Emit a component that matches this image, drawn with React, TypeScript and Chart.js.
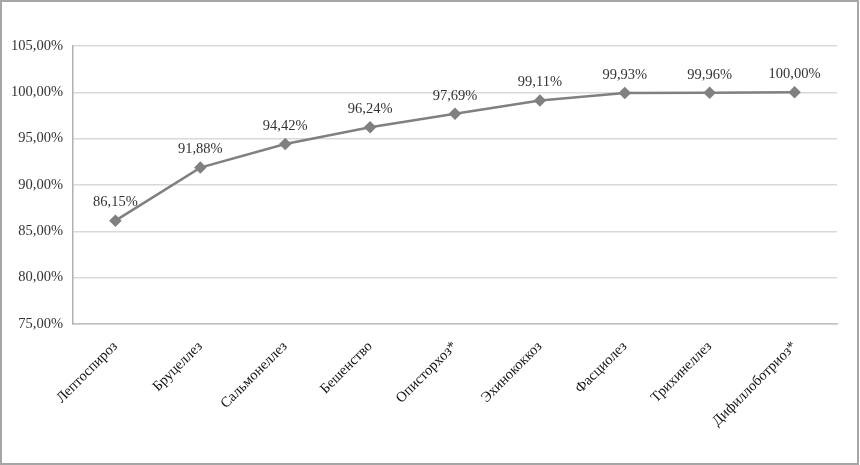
import React, { useEffect, useRef } from "react";
import { Chart, registerables } from "chart.js";

Chart.register(...registerables);

const categories = [
  "Лептоспироз",
  "Бруцеллез",
  "Сальмонеллез",
  "Бешенство",
  "Описторхоз*",
  "Эхинококкоз",
  "Фасциолез",
  "Трихинеллез",
  "Дифиллоботриоз*",
];
const values = [86.15, 91.88, 94.42, 96.24, 97.69, 99.11, 99.93, 99.96, 100.0];
const yMin = 75;
const yMax = 105;
const yStep = 5;

const fmt = (v: number) => v.toFixed(2).replace(".", ",") + "%";
const FONT = "'Liberation Serif', 'Times New Roman', serif";

const dataLabels = {
  id: "dataLabels",
  afterDatasetsDraw(chart: any) {
    const ctx = chart.ctx;
    const meta = chart.getDatasetMeta(0);
    ctx.save();
    ctx.font = `14.5px ${FONT}`;
    ctx.fillStyle = "#333333";
    ctx.textAlign = "center";
    ctx.textBaseline = "middle";
    meta.data.forEach((pt: any, i: number) => {
      ctx.fillText(fmt(values[i]), pt.x, pt.y - 18);
    });
    ctx.restore();
  },
};

export default function App() {
  const ref = useRef<HTMLCanvasElement | null>(null);
  useEffect(() => {
    if (!ref.current) return;
    const chart = new Chart(ref.current, {
      type: "line",
      data: {
        labels: categories,
        datasets: [
          {
            data: values,
            borderColor: "#808080",
            backgroundColor: "#808080",
            borderWidth: 2.5,
            pointStyle: "rectRot",
            pointRadius: 4.5,
            pointBackgroundColor: "#808080",
            pointBorderColor: "#808080",
            tension: 0,
          },
        ],
      },
      options: {
        responsive: false,
        animation: false,
        layout: { padding: { left: 0, top: 46, right: 23, bottom: 0 } },
        plugins: { legend: { display: false }, tooltip: { enabled: false } },
        scales: {
          x: {
            offset: true,
            grid: { display: false, drawTicks: false },
            border: { display: true, color: "#c0c0c0", width: 1.5 },
            ticks: {
              minRotation: 45,
              maxRotation: 45,
              autoSkip: false,
              padding: 14,
              color: "#111111",
              font: { family: FONT, size: 14.5 },
            },
            afterFit: (s: any) => {
              s.height = 141;
            },
          },
          y: {
            min: yMin,
            max: yMax,
            ticks: {
              stepSize: yStep,
              padding: 10,
              color: "#333333",
              font: { family: FONT, size: 14.5 },
              callback: (v: any) => fmt(Number(v)),
            },
            grid: { color: "#d9d9d9", lineWidth: 1.5, drawTicks: false },
            border: { display: true, color: "#b0b0b0", width: 1.5 },
            afterFit: (s: any) => {
              s.width = 73;
            },
          },
        },
      },
      plugins: [dataLabels],
    });
    return () => chart.destroy();
  }, []);
  return (
    <div
      style={{
        position: "fixed",
        left: 0,
        top: 0,
        width: 860,
        height: 465,
        background: "#ffffff",
      }}
    >
      <canvas
        ref={ref}
        width={860}
        height={465}
        style={{ position: "absolute", left: 0, top: 0 }}
      />
      <div
        style={{
          position: "absolute",
          left: 0,
          top: 0,
          width: 855,
          height: 461,
          border: "2px solid #a6a6a6",
          pointerEvents: "none",
        }}
      />
    </div>
  );
}
